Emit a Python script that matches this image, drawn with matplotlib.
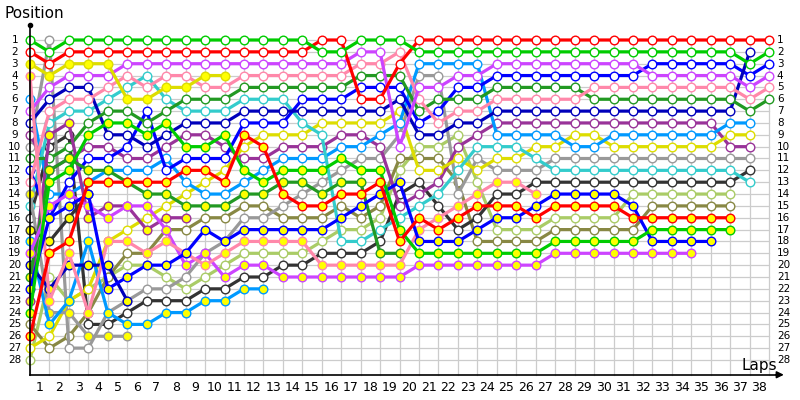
import numpy as np
import matplotlib.pyplot as plt

# laps 0..38, value = position on that lap (None = not running)
laps = list(range(39))

green_w = [1,2,1,1,1,1,1,1,1,1, 1,1,1,1,1,2,2,1,1,1, 2,2,2,2,2,2,2,2,2,2, 2,2,2,2,2,2,2,3,2]
red_w = [2,3,2,2,2,2,2,2,2,2, 2,2,2,2,2,1,1,6,6,3, 1,1,1,1,1,1,1,1,1,1, 1,1,1,1,1,1,1,1,1]
violet_w = [7,5,4,4,4,3,3,3,3,3, 3,3,3,3,3,3,3,2,2,10, 5,5,4,4,3,3,3,3,3,3, 3,3,4,4,4,4,4,5,4]
pink_w = [13,7,6,6,5,4,5,4,4,5, 5,4,4,4,4,4,4,3,3,2, 6,8,7,7,6,6,6,6,6,5, 5,5,5,5,5,5,5,6,5]
dkgreen_w = [11,11,10,8,7,7,8,7,6,6, 6,5,5,5,5,5,5,4,4,4, 7,6,6,6,5,5,5,5,5,6, 6,6,6,6,6,6,6,7,6]
cyan_w = [15,8,7,7,6,5,4,6,7,7, 7,6,6,6,8,9,18,18,17,16, 15,14,12,10,10,10,11,12,12,12, 12,12,12,12,12,12,12,13,None]
dkblue_w = [8,6,5,5,9,9,10,9,8,8, 8,7,7,7,7,7,7,7,7,6, 9,9,8,8,7,7,7,7,7,7, 7,7,7,7,7,7,7,2,None]
blue_w = [12,16,13,11,11,10,7,12,11,11, 11,8,8,8,6,6,6,5,5,5, 8,7,5,5,4,4,4,4,4,4, 4,4,3,3,3,3,3,4,3]
ltblue_w = [6,14,14,13,12,12,12,11,13,14, 14,13,12,11,11,11,10,10,9,8, 3,3,3,3,9,9,9,9,10,10, 9,9,9,9,9,9,8,8,None]
yellow_w = [27,26,23,22,18,17,16,15,14,13, 12,10,9,9,9,8,8,8,8,7, 12,12,11,12,11,11,10,10,9,9, 10,10,10,10,10,10,9,9,None]
purple_w = [9,12,11,10,10,11,11,10,9,9, 10,11,11,10,10,10,9,9,10,15, 14,13,10,9,8,8,8,8,8,8, 8,8,8,8,8,8,10,10,None]
gray_w = [10,1,27,27,24,23,22,22,21,19, 18,16,16,15,14,13,12,11,11,9, 4,4,14,11,12,12,12,11,11,11, 11,11,11,11,11,11,11,11,None]
black_w = [16,10,9,25,25,24,23,23,23,22, 22,21,21,20,20,19,19,19,18,14, 13,15,17,16,14,14,13,13,13,13, 13,13,13,13,13,13,13,12,None]
olive_w = [25,27,26,24,21,19,19,17,17,16, 16,15,15,16,16,16,15,16,15,11, 11,11,13,18,18,18,18,17,17,17, 17,17,15,15,15,15,15,None,None]
ltgreen_w = [28,21,23,22,21,20,20,21,22,21, 20,19,19,19,19,18,17,17,16,12, 10,10,9,13,17,17,17,16,16,16, 16,14,14,14,14,14,14,None,None]

yellow_y = [3,4,3,3,3,6,6,5,5,4, 4,None,None,None,None,None,None,None,None,None,
            None,None,None,None,None,None,None,None,None,None,
            None,None,None,None,None,None,None,None,None]
pink_y = [4,23,19,24,18,18,19,18,19,20, 19,18,18,18,18,20,20,20,20,20, 17,16,15,14,13,13,14,None,None,None,
          None,None,None,None,None,None,None,None,None]
gray_y = [14,24,24,26,26,26,None,None,None,None, None,None,None,None,None,None,None,None,None,None,
          None,None,None,None,None,None,None,None,None,None,
          None,None,None,None,None,None,None,None,None]
black_y = [17,18,16,14,None,None,None,None,None,None, None,None,None,None,None,None,None,None,None,None,
           None,None,None,None,None,None,None,None,None,None,
           None,None,None,None,None,None,None,None,None]
ltblue_y = [18,25,23,18,24,25,25,24,24,23, 23,22,22,None,None,None,None,None,None,None,
            None,None,None,None,None,None,None,None,None,None,
            None,None,None,None,None,None,None,None,None]
violet_y = [19,15,14,15,16,15,15,17,20,19, 21,20,20,21,21,21,21,21,21,21, 20,20,20,20,20,20,20,19,19,19,
            19,19,19,19,19,None,None,None,None]
dkblue_y = [20,22,20,20,20,23,None,None,None,None, None,None,None,None,None,None,None,None,None,None,
            None,None,None,None,None,None,None,None,None,None,
            None,None,None,None,None,None,None,None,None]
dkgreen_y = [21,12,11,12,12,13,14,14,15,15, 15,14,14,13,13,14,13,13,19,19, None,None,None,None,None,None,None,None,None,None,
             None,None,None,None,None,None,None,None,None]
blue_y = [22,16,15,14,22,21,20,20,19,17, 18,17,17,17,17,17,16,15,14,13, 18,18,18,17,16,16,15,14,14,14,
          14,15,18,18,18,18,None,None,None]
purple_y = [23,9,8,16,15,15,17,16,16,None, None,None,None,None,None,None,None,None,None,None,
            None,None,None,None,None,None,None,None,None,None,
            None,None,None,None,None,None,None,None,None]
green_y = [24,13,12,9,8,8,9,8,10,10, 9,12,13,12,12,12,11,12,12,17, 19,19,19,19,19,19,19,18,18,18,
           18,18,17,17,17,17,17,None,None]
red_y = [26,19,18,13,13,13,13,13,12,12, 13,9,10,14,15,15,14,14,13,18, 16,17,16,15,15,15,16,15,15,15,
         15,16,16,16,16,16,16,None,None]

WHITE = 'white'
YEL = '#ffff00'
drivers = [
    (ltgreen_w, '#aacc66', WHITE), (olive_w, '#888844', WHITE), (black_w, '#333333', WHITE),
    (gray_w, '#999999', WHITE), (purple_w, '#993399', WHITE), (yellow_w, '#dddd00', WHITE),
    (ltblue_w, '#0099ff', WHITE), (cyan_w, '#33cccc', WHITE), (blue_w, '#0000ff', WHITE),
    (dkblue_w, '#0000bb', WHITE), (dkgreen_w, '#229922', WHITE), (pink_w, '#ff88aa', WHITE),
    (violet_w, '#cc44ff', WHITE), (red_w, '#ff0000', WHITE), (green_w, '#00cc00', WHITE),
    (gray_y, '#999999', YEL), (black_y, '#333333', YEL), (ltblue_y, '#0099ff', YEL),
    (dkblue_y, '#0000bb', YEL), (purple_y, '#993399', YEL), (dkgreen_y, '#229922', YEL),
    (violet_y, '#cc44ff', YEL), (pink_y, '#ff88aa', YEL), (blue_y, '#0000ff', YEL),
    (green_y, '#00cc00', YEL), (red_y, '#ff0000', YEL), (yellow_y, '#dddd00', YEL),
]

n_pos = 28
n_laps = 38

fig = plt.figure(figsize=(8, 4), dpi=100)
ax = fig.add_axes([0, 0, 1, 1])
# pixel layout: lap 0 at x=30, 19.45 px per lap; P1 at y=40, 11.85 px per place
ax.set_xlim(-30 / 19.45, 770 / 19.45)
ax.set_ylim(1 + 360 / 11.85, 1 - 40 / 11.85)
ax.axis('off')

# grid
for p in range(1, n_pos + 1):
    ax.plot([0, n_laps], [p, p], color='#cccccc', lw=0.9, zorder=1)
for l in range(0, n_laps + 1):
    ax.plot([l, l], [1, 29.25], color='#cccccc', lw=0.9, zorder=1)

# axes
ax.plot([0, 0], [-0.3, 29.25], color='black', lw=1.2, zorder=5)
ax.plot([0], [-0.3], marker='o', color='black', ms=3, zorder=5)
ax.plot([0, 38.6], [29.25, 29.25], color='black', lw=1.2, zorder=5)
ax.annotate('', xy=(38.9, 29.25), xytext=(38.2, 29.25),
            arrowprops=dict(arrowstyle='-|>', color='black', lw=1.2, mutation_scale=10), zorder=5)

for pos, col, fill in drivers:
    y = np.array(pos, dtype=float)
    ax.plot(laps, y, '-o', color=col, lw=2.3, ms=6.2, mfc=fill, mec=col, mew=1.0,
            solid_joinstyle='miter', zorder=3)

# labels
for p in range(1, n_pos + 1):
    ax.text(-0.78, p, str(p), ha='center', va='center', fontsize=7.5, color='black')
    ax.text(38.4, p, str(p), ha='left', va='center', fontsize=7.5, color='black')
for l in range(1, n_laps + 1):
    ax.text(l - 0.5, 30.3, str(l), ha='center', va='center', fontsize=9, color='black')

ax.text(-1.3, -1.2, 'Position', ha='left', va='center', fontsize=11, color='black')
ax.text(36.6, 28.45, 'Laps', ha='left', va='center', fontsize=11, color='black')

fig.savefig('out.png', dpi=100)
